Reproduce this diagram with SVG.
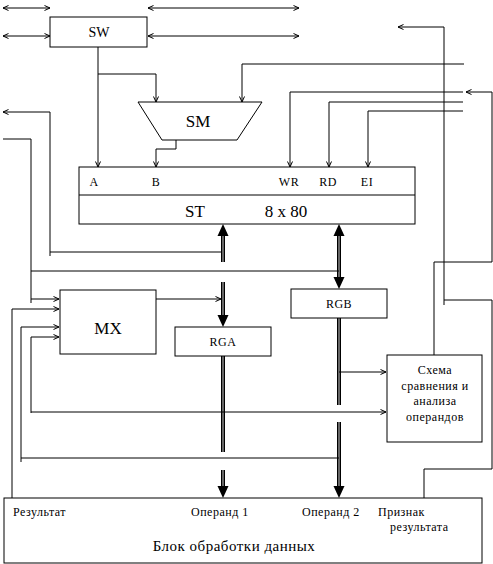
<svg xmlns="http://www.w3.org/2000/svg" width="493" height="564" viewBox="0 0 493 564">
<defs>
<style>
.n{fill:#fff;stroke:#000;stroke-width:1}
.c{fill:none;stroke:#000;stroke-width:1}
.b{fill:none;stroke:#000;stroke-width:1.6}
.h{fill:#000;stroke:none}
text{font-family:"Liberation Serif","Times New Roman",serif;fill:#000}
.s12{font-size:12px;letter-spacing:0.5px}
.s13{font-size:14px}
.s15{font-size:15px;letter-spacing:0.5px}
.s17{font-size:17px}
</style>
<marker id="ar" viewBox="0 0 6 6" refX="6" refY="3" markerWidth="6" markerHeight="6" markerUnits="userSpaceOnUse" orient="auto-start-reverse">
<path d="M0.5,0.5 L6,3 L0.5,5.5" fill="none" stroke="#000" stroke-width="1"/>
</marker>
</defs>
<rect width="493" height="564" fill="#fff"/>

<g id="connectors">
<path class="c" d="M3,8 H50" marker-start="url(#ar)" marker-end="url(#ar)"/>
<path class="c" d="M148,8 H299" marker-start="url(#ar)" marker-end="url(#ar)"/>
<path class="c" d="M3,36 H50" marker-start="url(#ar)" marker-end="url(#ar)"/>
<path class="c" d="M148,36 H299" marker-start="url(#ar)" marker-end="url(#ar)"/>
<path class="c" d="M98,47 V167" marker-end="url(#ar)"/>
<path class="c" d="M98,74 H156 V102" marker-end="url(#ar)"/>
<path class="c" d="M464,64 H242 V102" marker-end="url(#ar)"/>
<path class="c" d="M176,140 V149 H156 V167" marker-end="url(#ar)"/>
<path class="c" d="M463,92 H290 V167" marker-end="url(#ar)"/>
<path class="c" d="M463,102 H329 V167" marker-end="url(#ar)"/>
<path class="c" d="M463,111 H368 V167" marker-end="url(#ar)"/>
<path class="c" d="M444,305 V27 H398" marker-end="url(#ar)"/>
<path class="c" d="M444,300 H492 V469 H424 V498"/>
<path class="c" d="M434,355 V262 H492 V92 H466" marker-end="url(#ar)"/>
<path class="c" d="M50,256 V112 H3" marker-end="url(#ar)"/>
<path class="c" d="M50,252 H222"/>
<path class="c" d="M3,139 H31 V303"/>
<path class="c" d="M31,271 H339"/>
<path class="c" d="M31,299 H59" marker-end="url(#ar)"/>
<path class="c" d="M12,500 V309 H59" marker-end="url(#ar)"/>
<path class="c" d="M21,462 V327 H59" marker-end="url(#ar)"/>
<path class="c" d="M21,458 H339"/>
<path class="c" d="M31,413 V337 H59" marker-end="url(#ar)"/>
<path class="c" d="M31,412 H386" marker-end="url(#ar)"/>
<path class="c" d="M156,299 H221" marker-end="url(#ar)"/>
<path class="c" d="M339,372 H386" marker-end="url(#ar)"/>

<polygon class="h" points="223,224 217.5,236 228.5,236"/>
<path class="b" d="M221.8,236 V262 M224.2,236 V262"/>
<path class="b" d="M221.8,282 V316 M224.2,282 V316"/>
<polygon class="h" points="223,327 217.5,315 228.5,315"/>
<path class="b" d="M221.8,356 V452 M224.2,356 V452"/>
<path class="b" d="M221.8,470 V487 M224.2,470 V487"/>
<polygon class="h" points="223,498 217.5,486 228.5,486"/>
<polygon class="h" points="339,224 333.5,236 344.5,236"/>
<path class="b" d="M337.8,236 V278 M340.2,236 V278"/>
<polygon class="h" points="339,289 333.5,277 344.5,277"/>
<path class="b" d="M337.8,318 V405 M340.2,318 V405"/>
<path class="b" d="M337.8,422 V487 M340.2,422 V487"/>
<polygon class="h" points="339,498 333.5,486 344.5,486"/>
</g>

<g id="SW">
<rect class="n" x="50" y="17" width="97" height="30"/>
<text class="s13" x="99" y="37" text-anchor="middle">SW</text>
</g>

<g id="SM">
<polygon class="n" points="138,102 262,102 237,140 162,140"/>
<text class="s17" x="198" y="127" text-anchor="middle">SM</text>
</g>

<g id="ST">
<rect class="n" x="79" y="167" width="336" height="57"/>
<line class="c" x1="79" y1="195" x2="415" y2="195"/>
<text class="s12" x="94" y="186" text-anchor="middle">A</text>
<text class="s12" x="156" y="186" text-anchor="middle">B</text>
<text class="s12" x="289" y="186" text-anchor="middle">WR</text>
<text class="s12" x="328" y="186" text-anchor="middle">RD</text>
<text class="s12" x="367" y="186" text-anchor="middle">EI</text>
<text class="s17" x="195" y="217" text-anchor="middle">ST</text>
<text class="s17" x="286" y="217" text-anchor="middle">8 x 80</text>
</g>

<g id="MX">
<rect class="n" x="60" y="290" width="96" height="64"/>
<text class="s17" x="108" y="334" text-anchor="middle">MX</text>
</g>

<g id="RGA">
<rect class="n" x="175" y="327" width="96" height="29"/>
<text class="s12" x="223" y="346" text-anchor="middle">RGA</text>
</g>

<g id="RGB">
<rect class="n" x="291" y="289" width="96" height="29"/>
<text class="s12" x="339" y="308" text-anchor="middle">RGB</text>
</g>

<g id="compare">
<rect class="n" x="387" y="355" width="95" height="87"/>
<text class="s12" x="435" y="374" text-anchor="middle">Схема</text>
<text class="s12" x="435" y="390" text-anchor="middle">сравнения и</text>
<text class="s12" x="435" y="405" text-anchor="middle">анализа</text>
<text class="s12" x="435" y="421" text-anchor="middle">операндов</text>
</g>

<g id="block">
<rect class="n" x="4" y="498" width="478" height="65"/>
<text class="s12" x="13" y="516">Результат</text>
<text class="s12" x="191" y="516">Операнд 1</text>
<text class="s12" x="302" y="516">Операнд 2</text>
<text class="s12" x="378" y="516">Признак</text>
<text class="s12" x="390" y="531">результата</text>
<text class="s15" x="234" y="551" text-anchor="middle">Блок обработки данных</text>
</g>
</svg>
